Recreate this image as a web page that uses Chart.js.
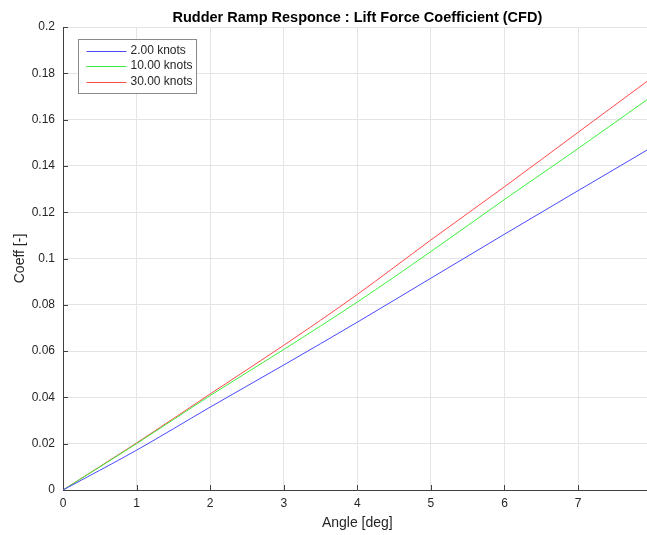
<!DOCTYPE html>
<html>
<head>
<meta charset="utf-8">
<script src="https://cdn.jsdelivr.net/npm/chart.js@4.4.1/dist/chart.umd.min.js"></script>
<style>
  html, body { margin: 0; padding: 0; overflow: hidden; background: #ffffff; }
  #wrap { position: relative; width: 661px; height: 535px; }
</style>
</head>
<body>
<div id="wrap"><canvas id="c"></canvas></div>
<script>
// Rudder angle (deg) and lift force coefficient for each speed
const angles  = [0, 1, 2, 3, 4, 5, 6, 7, 8];
const knots2  = [0, 0.0172, 0.0358, 0.0540, 0.0725, 0.0915, 0.1105, 0.1293, 0.1480];
const knots10 = [0, 0.0200, 0.0408, 0.0607, 0.0812, 0.1030, 0.1255, 0.1475, 0.1700];
const knots30 = [0, 0.0203, 0.0415, 0.0625, 0.0845, 0.1080, 0.1310, 0.1545, 0.1780];

const seriesLabels = ['2.00 knots', '10.00 knots', '30.00 knots'];
const seriesColors = ['#4a4aff', '#3cf03c', '#ff4a4a'];

const xTicks = [0, 1, 2, 3, 4, 5, 6, 7, 8];
const yTicks = [0, 0.02, 0.04, 0.06, 0.08, 0.1, 0.12, 0.14, 0.16, 0.18, 0.2];
const yTickLabels = ['0', '0.02', '0.04', '0.06', '0.08', '0.1', '0.12', '0.14', '0.16', '0.18', '0.2'];

const titleText = 'Rudder Ramp Responce : Lift Force Coefficient (CFD)';
const FONT = '"Liberation Sans", Arial, Helvetica, sans-serif';
const AXIS = '#404040';
const TEXT = '#262626';
const GRID = '#e4e4e4';

const toPoints = vals => angles.map((a, i) => ({ x: a, y: vals[i] }));

// Inward tick marks, plot title and the boxed legend inside the axes
const decor = {
  id: 'decor',
  beforeDatasetsDraw(chart) {
    const { ctx, chartArea: a, scales: { x, y } } = chart;
    ctx.save();
    ctx.strokeStyle = AXIS;
    ctx.lineWidth = 1;
    ctx.beginPath();
    xTicks.forEach(v => {
      const px = Math.round(x.getPixelForValue(v)) + 0.5;
      ctx.moveTo(px, a.bottom);
      ctx.lineTo(px, a.bottom - 5);
    });
    yTicks.forEach(v => {
      const py = Math.round(y.getPixelForValue(v)) + 0.5;
      ctx.moveTo(a.left, py);
      ctx.lineTo(a.left + 5, py);
    });
    ctx.stroke();
    ctx.restore();
  },
  afterDraw(chart) {
    const { ctx, chartArea: a } = chart;
    ctx.save();
    // title
    ctx.fillStyle = '#000000';
    ctx.font = 'bold 14.5px ' + FONT;
    ctx.textAlign = 'center';
    ctx.textBaseline = 'middle';
    ctx.fillText(titleText, (a.left + a.right) / 2, 18);

    // legend
    const bx = a.left + 15.5, by = a.top + 12.5, bw = 118, bh = 54;
    ctx.fillStyle = '#ffffff';
    ctx.fillRect(bx, by, bw, bh);
    ctx.lineWidth = 1;
    ctx.strokeStyle = '#8a8a8a';
    ctx.strokeRect(bx, by, bw, bh);
    ctx.font = '12px ' + FONT;
    ctx.textAlign = 'left';
    ctx.textBaseline = 'middle';
    seriesLabels.forEach((lab, i) => {
      const ry = by + 11 + i * 15.5;
      ctx.beginPath();
      ctx.strokeStyle = seriesColors[i];
      ctx.moveTo(bx + 8, Math.round(ry) + 0.5);
      ctx.lineTo(bx + 48, Math.round(ry) + 0.5);
      ctx.stroke();
      ctx.fillStyle = TEXT;
      ctx.fillText(lab, bx + 52, ry);
    });
    ctx.restore();
  }
};

new Chart(document.getElementById('c'), {
  type: 'line',
  data: {
    datasets: [
      { label: seriesLabels[0], data: toPoints(knots2),  borderColor: seriesColors[0] },
      { label: seriesLabels[1], data: toPoints(knots10), borderColor: seriesColors[1] },
      { label: seriesLabels[2], data: toPoints(knots30), borderColor: seriesColors[2] }
    ].map(d => Object.assign(d, {
      borderWidth: 1, pointRadius: 0, fill: false, cubicInterpolationMode: 'monotone'
    }))
  },
  options: {
    responsive: true,
    maintainAspectRatio: false,
    animation: false,
    devicePixelRatio: 1,
    layout: { padding: { top: 27, left: 0, right: 0, bottom: 0 } },
    plugins: {
      legend: { display: false },
      title: { display: false },
      tooltip: { enabled: false }
    },
    scales: {
      x: {
        type: 'linear',
        min: 0, max: 8,
        afterBuildTicks: s => { s.ticks = xTicks.map(v => ({ value: v })); },
        afterFit: s => { s.height = 45; },
        ticks: { color: TEXT, font: { family: FONT, size: 12 }, padding: 6, maxRotation: 0,
                 callback: v => String(v) },
        grid: { color: GRID, drawTicks: false },
        border: { display: true, color: AXIS, width: 1 },
        title: { display: true, text: 'Angle [deg]', color: TEXT,
                 font: { family: FONT, size: 14 }, padding: { top: 0, bottom: 3 } }
      },
      y: {
        type: 'linear',
        min: 0, max: 0.2,
        afterBuildTicks: s => { s.ticks = yTicks.map(v => ({ value: v })); },
        afterFit: s => { s.width = 63; },
        ticks: { color: TEXT, font: { family: FONT, size: 12 }, padding: 8,
                 callback: (v) => yTickLabels[yTicks.findIndex(t => Math.abs(t - v) < 1e-9)] },
        grid: { color: GRID, drawTicks: false },
        border: { display: true, color: AXIS, width: 1 },
        title: { display: true, text: 'Coeff [-]', color: TEXT,
                 font: { family: FONT, size: 14 }, padding: { top: 12, bottom: 0 } }
      }
    }
  },
  plugins: [decor]
});
</script>
</body>
</html>
